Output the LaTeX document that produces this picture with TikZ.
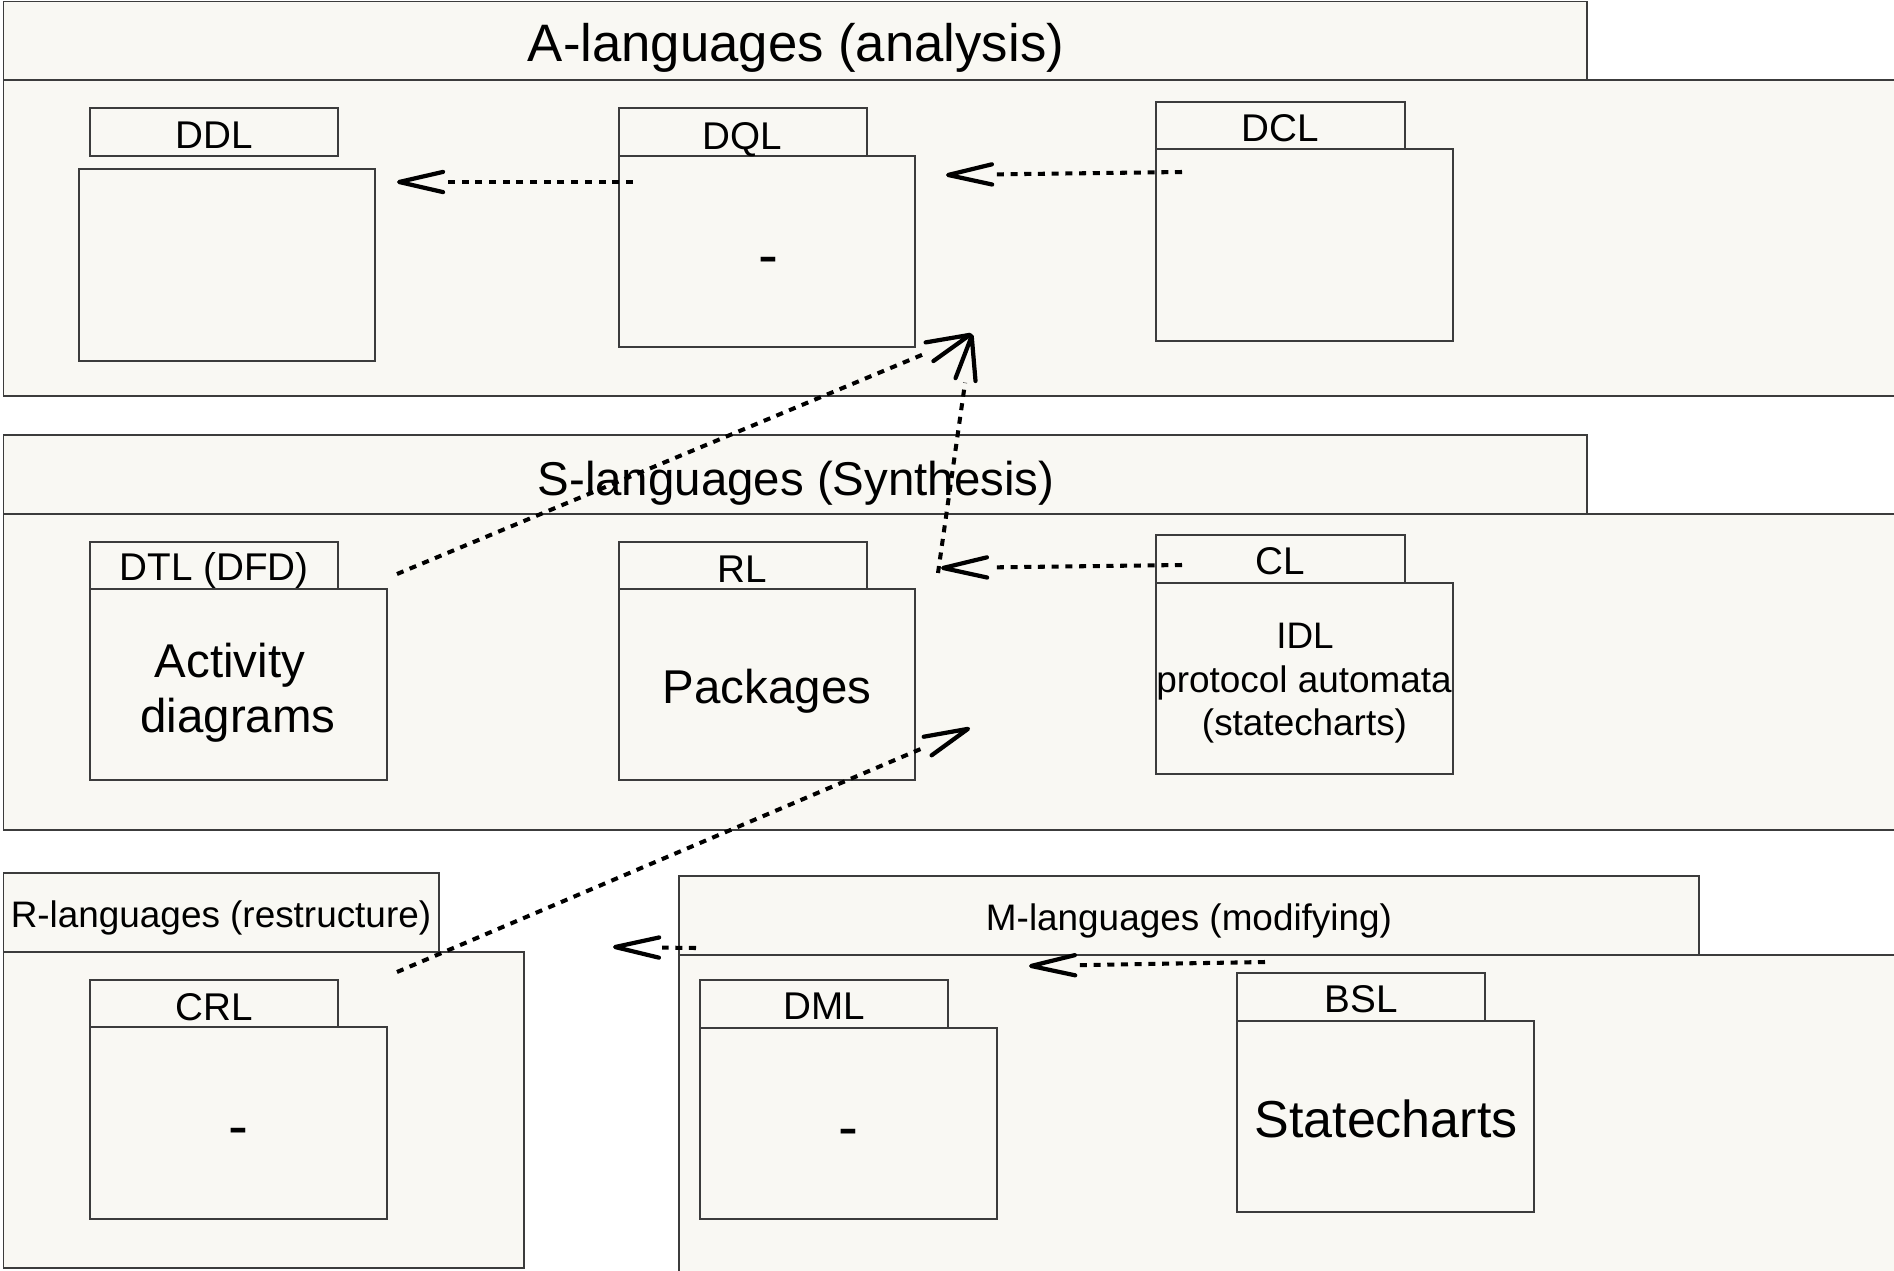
\documentclass[tikz,border=0pt]{standalone}
\usepackage{fontspec}
\setmainfont{Liberation Sans}
\usetikzlibrary{arrows.meta,calc}
\definecolor{pkgfill}{RGB}{249,248,243}
\definecolor{pkgline}{RGB}{60,60,60}

% dashed dependency: the shaft stops at the back of the open head
\newcommand\depedge[2]{%
  \draw[depline] (#1) -- (#2);
  \draw[dephead] ($(#2)!2pt!(#1)$) -- (#2);}

\begin{document}
\begin{tikzpicture}[x=0.02cm, y=-0.02cm,
  frame/.style={draw=pkgline, line width=0.8pt, fill=pkgfill},
  lbl/.style={inner sep=0pt, anchor=base},
  ttl/.style={lbl, font=\fontsize{30}{36}\selectfont},
  subttl/.style={lbl, font=\fontsize{27}{32}\selectfont},
  grpttl/.style={lbl, font=\fontsize{21}{25}\selectfont},
  tabtxt/.style={lbl, font=\fontsize{22}{26}\selectfont},
  bigtxt/.style={lbl, font=\fontsize{27}{32}\selectfont},
  smalltxt/.style={lbl, font=\fontsize{21}{25}\selectfont},
  dashtxt/.style={lbl, font=\fontsize{34}{40}\selectfont},
  depline/.style={draw=black, line width=2.3pt, dash pattern=on 4pt off 3.8pt,
    shorten >=28pt},
  dephead/.style={draw=black, line width=2.4pt,
    -{Straight Barb[length=25pt,width=11.5pt,round]}},
]
\useasboundingbox (0,0) rectangle (1894,1271);
\fill[white] (0,0) rectangle (1894,1271);

% ---------- A-languages ----------
\draw[frame] (3.6,1.7) rectangle (1587,80);
\draw[frame] (3.6,80) rectangle (1910,396);
\node[ttl] (atitle) at (796,61.5) {A-languages (analysis)};

\draw[frame] (90,108) rectangle (338,156);
\draw[frame] (79,169) rectangle (375,361);
\node[tabtxt] (ddl) at (214,148) {DDL};

\draw[frame] (619,108) rectangle (867,156);
\draw[frame] (619,156) rectangle (915,347);
\node[tabtxt] (dql) at (742,149) {DQL};
\node[dashtxt] (dqldash) at (768,275.5) {-};

\draw[frame] (1156,102) rectangle (1405,149);
\draw[frame] (1156,149) rectangle (1453,341);
\node[tabtxt] (dcl) at (1280,141.7) {DCL};

% ---------- S-languages ----------
\draw[frame] (3.6,435) rectangle (1587,514);
\draw[frame] (3.6,514) rectangle (1910,830);
\node[subttl] (stitle) at (796,495) {S-languages (Synthesis)};

\draw[frame] (90,542) rectangle (338,589);
\draw[frame] (90,589) rectangle (387,780);
\node[tabtxt] (dtl) at (214,580) {DTL (DFD)};
\node[bigtxt] (act1) at (230,677) {Activity};
\node[bigtxt] (act2) at (238,732) {diagrams};

\draw[frame] (619,542) rectangle (867,589);
\draw[frame] (619,589) rectangle (915,780);
\node[tabtxt] (rl) at (742,582) {RL};
\node[bigtxt] (pkgs) at (767,703) {Packages};

\draw[frame] (1156,535) rectangle (1405,583);
\draw[frame] (1156,583) rectangle (1453,774);
\node[tabtxt] (cl) at (1280,574) {CL};
\node[smalltxt] (idl1) at (1305,648) {IDL};
\node[smalltxt] (idl2) at (1304,692.7) {protocol automata};
\node[smalltxt] (idl3) at (1304.5,735) {(statecharts)};

% ---------- R-languages ----------
\draw[frame] (3.6,873) rectangle (439,952);
\draw[frame] (3.6,952) rectangle (524,1268);
\node[grpttl] (rtitle) at (221,927) {R-languages (restructure)};

\draw[frame] (90,980) rectangle (338,1027);
\draw[frame] (90,1027) rectangle (387,1219);
\node[tabtxt] (crl) at (214,1020) {CRL};
\node[dashtxt] (crldash) at (238,1146.5) {-};

% ---------- M-languages ----------
\draw[frame] (679,876) rectangle (1699,955);
\draw[frame] (679,955) rectangle (1910,1290);
\node[grpttl] (mtitle) at (1189,930) {M-languages (modifying)};

\draw[frame] (700,980) rectangle (948,1028);
\draw[frame] (700,1028) rectangle (997,1219);
\node[tabtxt] (dml) at (824,1019) {DML};
\node[dashtxt] (dmldash) at (848,1147.5) {-};

\draw[frame] (1237,973) rectangle (1485,1021);
\draw[frame] (1237,1021) rectangle (1534,1212);
\node[tabtxt] (bsl) at (1361,1012) {BSL};
\node[lbl, font=\fontsize{29.6}{35}\selectfont] (stch) at (1386,1137) {Statecharts};

% ---------- dependency ends ----------
\coordinate (dqlsrc) at (633,182);
\coordinate (ddltgt) at (397,182);
\coordinate (dclsrc) at (1182,172);
\coordinate (dqltgt) at (946,175);
\coordinate (dtlsrc) at (397,574);
\coordinate (dqlbase) at (972,334);
\coordinate (clsrc) at (1182,565);
\coordinate (rltgt) at (941,568);
\coordinate (rlsrc) at (938,573);
\coordinate (crlsrc) at (397,972);
\coordinate (rlbase) at (970,728);
\coordinate (msrc) at (696,948);
\coordinate (rtgt) at (613,947);
\coordinate (bslsrc) at (1265,962);
\coordinate (dmltgt) at (1029,966);

% ---------- dependencies ----------
\depedge{dqlsrc}{ddltgt}
\depedge{dclsrc}{dqltgt}
\depedge{dtlsrc}{dqlbase}
\depedge{clsrc}{rltgt}
\depedge{rlsrc}{dqlbase}
\depedge{crlsrc}{rlbase}
\depedge{msrc}{rtgt}
\depedge{bslsrc}{dmltgt}
\end{tikzpicture}
\end{document}
